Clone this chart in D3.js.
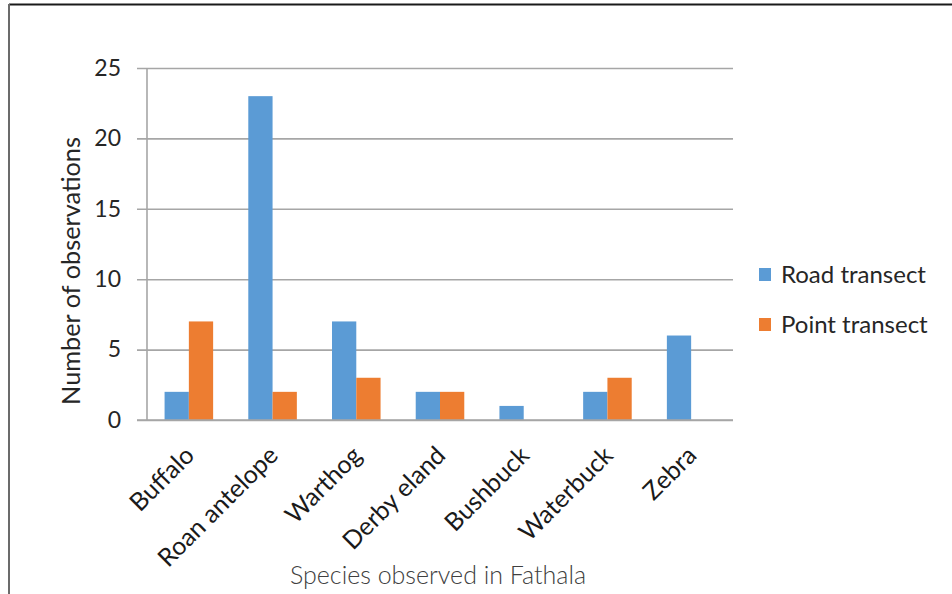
<!DOCTYPE html>
<html>
<head>
<meta charset="utf-8">
<script src="https://cdn.jsdelivr.net/npm/d3@7"></script>
<style>
  html, body { margin: 0; padding: 0; background: #fff; }
  svg { display: block; }
  text { font-family: Lato, "Open Sans", sans-serif; }
</style>
</head>
<body>
<svg id="chart" width="952" height="594"></svg>
<script>
// Wildlife counts by species and survey method
const species = ["Buffalo", "Roan antelope", "Warthog", "Derby eland", "Bushbuck", "Waterbuck", "Zebra"];
const seriesNames = ["Road transect", "Point transect"];
const roadTransect = [2, 23, 7, 2, 1, 2, 6];
const pointTransect = [7, 2, 3, 2, 0, 3, 0];
const yTicks = [0, 5, 10, 15, 20, 25];
const colors = ["#5B9BD5", "#ED7D31"];

const svg = d3.select("#chart");
const W = 952, H = 594;

// frame of the chart object
svg.append("rect").attr("width", W).attr("height", H).attr("fill", "#fff");
svg.append("line").attr("x1", 9).attr("x2", W).attr("y1", 4.5).attr("y2", 4.5)
  .attr("stroke", "#1a1a1a").attr("stroke-width", 2);
svg.append("line").attr("x1", 9).attr("x2", 9).attr("y1", 4).attr("y2", H)
  .attr("stroke", "#6b6b6b").attr("stroke-width", 2);

// plot area
const plot = { left: 147, right: 733, top: 68, bottom: 420 };

const x = d3.scaleBand().domain(species)
  .range([plot.left, plot.right]).paddingInner(0.42).paddingOuter(0.21);
const xSeries = d3.scaleBand().domain(seriesNames).range([0, x.bandwidth()]);
const y = d3.scaleLinear().domain([0, 25]).range([plot.bottom, plot.top]);

// value axis with gridlines
const yAxis = d3.axisLeft(y).tickValues(yTicks).tickSizeInner(-(plot.right - plot.left))
  .tickSizeOuter(0).tickPadding(26).tickFormat(d3.format("d"));
const gy = svg.append("g").attr("transform", `translate(${plot.left},0)`).call(yAxis);
gy.select(".domain").remove();
gy.selectAll(".tick line").attr("x1", -10).attr("stroke", "#a6a6a6").attr("stroke-width", 1.6);
gy.selectAll(".tick text").attr("font-size", 23).attr("fill", "#262626")
  .attr("font-family", "Lato, sans-serif");

// vertical axis line
svg.append("line").attr("x1", plot.left).attr("x2", plot.left)
  .attr("y1", plot.top).attr("y2", plot.bottom)
  .attr("stroke", "#a6a6a6").attr("stroke-width", 1.6);

// bars
const rows = species.map((s, i) => ({ s, vals: [roadTransect[i], pointTransect[i]] }));
const groups = svg.append("g").selectAll("g").data(rows).join("g")
  .attr("transform", d => `translate(${x(d.s)},0)`);
groups.selectAll("rect")
  .data(d => d.vals.map((v, k) => ({ v, k })).filter(e => e.v > 0))
  .join("rect")
  .attr("x", e => xSeries(seriesNames[e.k]))
  .attr("width", xSeries.bandwidth())
  .attr("y", e => y(e.v))
  .attr("height", e => y(0) - y(e.v))
  .attr("fill", e => colors[e.k]);

// category axis
const xAxis = d3.axisBottom(x).tickSize(0).tickPadding(0);
const gx = svg.append("g").attr("transform", `translate(0,${plot.bottom})`).call(xAxis);
gx.select(".domain").attr("d", `M${plot.left - 10},0H${plot.right}`)
  .attr("stroke", "#a6a6a6").attr("stroke-width", 1.6);
gx.selectAll(".tick text")
  .attr("font-size", 25).attr("fill", "#1a1a1a").attr("font-family", "Lato, sans-serif")
  .attr("text-anchor", "end").attr("dy", 0).attr("y", 0)
  .attr("transform", "translate(7,37) rotate(-45)");

// axis titles
svg.append("text").attr("transform", `translate(80,${(plot.top + plot.bottom) / 2 + 27}) rotate(-90)`)
  .attr("text-anchor", "middle").attr("font-size", 25.3).attr("fill", "#262626")
  .text("Number of observations");
svg.append("text").attr("x", 438).attr("y", 584)
  .attr("text-anchor", "middle").attr("font-size", 25).attr("font-weight", 300)
  .attr("fill", "#404040").text("Species observed in Fathala");

// legend
const legend = svg.append("g").selectAll("g").data(seriesNames).join("g")
  .attr("transform", (d, i) => `translate(759,${268 + i * 50})`);
legend.append("rect").attr("width", 12).attr("height", 13).attr("fill", (d, i) => colors[i]);
legend.append("text").attr("x", 22).attr("y", 15).attr("font-size", 24)
  .attr("fill", "#262626").text(d => d);
</script>
</body>
</html>
